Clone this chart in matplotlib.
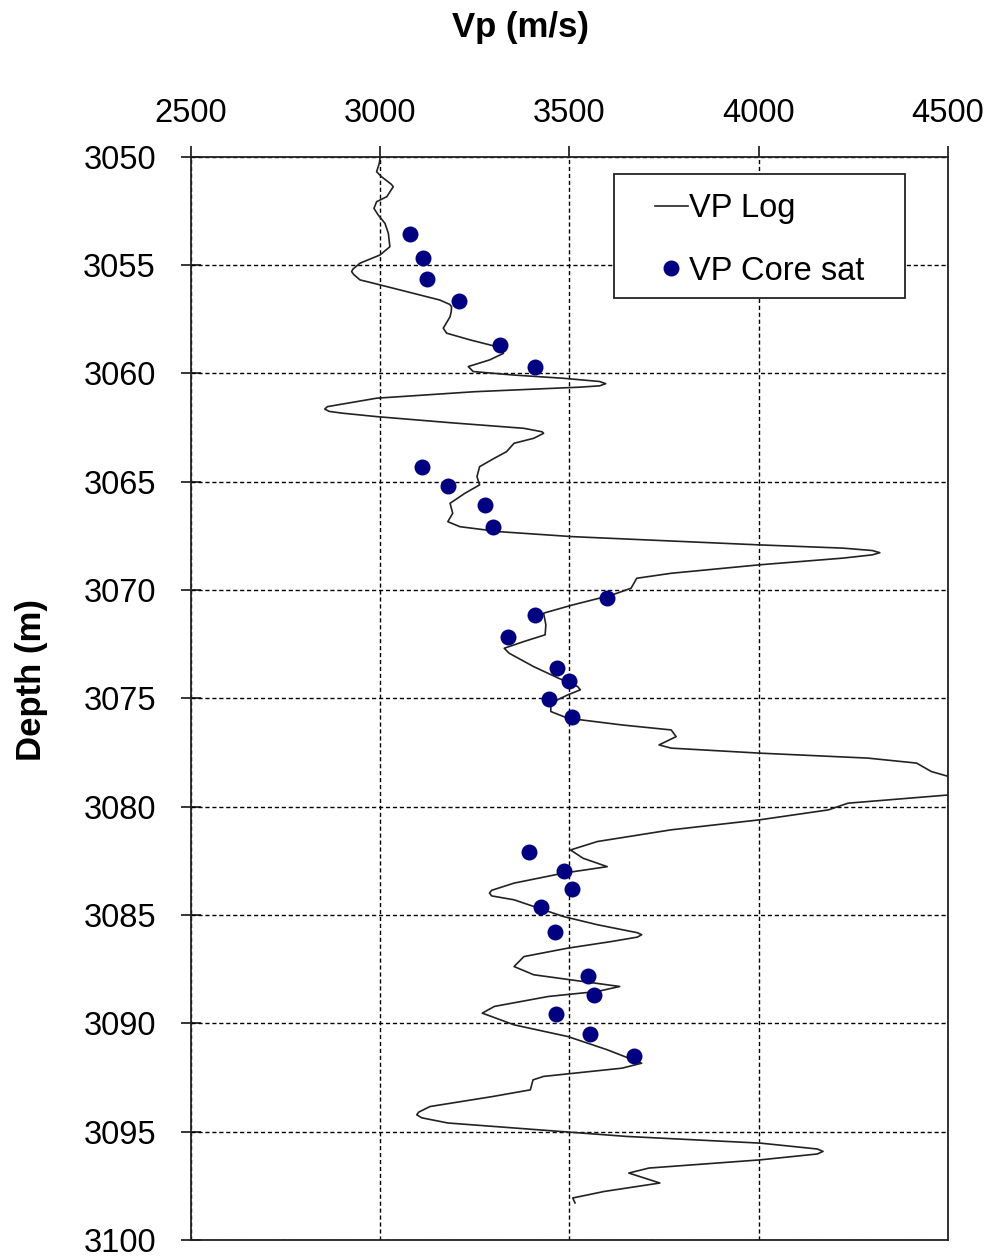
import matplotlib
matplotlib.use("Agg")
import matplotlib.pyplot as plt
from matplotlib.patches import Rectangle

plt.rcParams['font.family'] = ['Liberation Sans', 'DejaVu Sans']

# VP log (m/s) vs depth (m)
log_vp = [3000, 2998, 2991, 3004, 3030, 3035, 3030, 3018, 2991, 2984, 2995, 3013,
          3022, 3026, 3000, 2947, 2928, 2925, 2931, 2947, 3000, 3088, 3158, 3184, 3189,
          3188, 3185, 3167, 3176, 3238, 3308, 3322, 3326, 3290, 3233, 3246, 3352,
          3484, 3580, 3596, 3580, 3528, 3250, 2991, 2861, 2854, 2866, 2900, 2991, 3185,
          3380, 3428, 3432, 3406, 3354, 3334, 3302, 3263, 3256, 3263, 3224,
          3185, 3192, 3179, 3211, 3315, 3509, 3769, 4002, 4223, 4300, 4320,
          4300, 4223, 4002, 3769, 3678, 3663, 3613, 3509, 3432, 3438, 3436,
          3380, 3328, 3341, 3406, 3471, 3522, 3529, 3496, 3451, 3451,
          3496, 3639, 3769, 3782, 3737, 3769, 4002, 4288, 4417, 4456,
          4502, 4580, 4502, 4236, 4184, 4002, 3769, 3574, 3503, 3536,
          3600, 3484, 3354, 3295, 3289, 3295, 3354, 3484, 3574, 3680, 3691, 3680, 3613, 3496,
          3380, 3354, 3406, 3536, 3633, 3574, 3445, 3302, 3270, 3354,
          3496, 3600, 3691, 3639, 3432, 3404, 3397, 3297, 3132, 3102, 3097, 3110,
          3179, 3415, 3651, 4005, 4155, 4170, 4155, 4005, 3710, 3657, 3739, 3592,
          3509, 3515]
log_depth = [3050.08, 3050.31, 3050.70, 3050.93, 3051.28, 3051.39, 3051.52, 3051.85, 3052.08, 3052.39, 3052.69, 3053.08,
             3053.54, 3054.16, 3054.54, 3054.92, 3055.20, 3055.31, 3055.45, 3055.69, 3055.92, 3056.31, 3056.62, 3056.82, 3056.93,
             3057.15, 3057.39, 3057.92, 3058.15, 3058.46, 3058.77, 3058.98, 3059.08, 3059.38, 3059.69, 3059.92, 3060.08,
             3060.23, 3060.38, 3060.48, 3060.58, 3060.64, 3060.85, 3061.15, 3061.54, 3061.65, 3061.76, 3061.84, 3062.00, 3062.28,
             3062.54, 3062.70, 3062.77, 3063.00, 3063.23, 3063.62, 3063.92, 3064.31, 3064.77, 3065.15, 3065.54,
             3066.00, 3066.46, 3066.85, 3067.08, 3067.31, 3067.54, 3067.74, 3067.92, 3068.07, 3068.18, 3068.28,
             3068.38, 3068.53, 3068.84, 3069.23, 3069.46, 3069.92, 3070.23, 3070.69, 3071.07, 3071.61, 3072.07,
             3072.38, 3072.69, 3072.92, 3073.54, 3074.07, 3074.46, 3074.61, 3074.84, 3075.22, 3075.61,
             3075.92, 3076.23, 3076.46, 3076.77, 3077.15, 3077.30, 3077.53, 3077.76, 3077.99, 3078.38,
             3078.61, 3079.00, 3079.46, 3079.84, 3080.15, 3080.61, 3081.07, 3081.61, 3082.00, 3082.38,
             3082.77, 3083.07, 3083.53, 3083.86, 3083.99, 3084.12, 3084.30, 3085.07, 3085.45, 3085.82, 3085.91, 3086.02, 3086.22, 3086.53,
             3086.92, 3087.38, 3087.76, 3088.07, 3088.30, 3088.53, 3088.76, 3089.22, 3089.53, 3090.07,
             3090.61, 3091.22, 3091.84, 3092.07, 3092.45, 3092.61, 3093.07, 3093.38, 3093.84, 3094.10, 3094.22, 3094.36,
             3094.60, 3094.91, 3095.22, 3095.53, 3095.80, 3095.91, 3096.03, 3096.30, 3096.68, 3096.91, 3097.37, 3097.76,
             3098.06, 3098.29]

# VP core (saturated)
core_vp = [3079, 3114, 3125, 3209, 3317, 3408, 3111, 3180, 3277, 3298,
           3599, 3408, 3338, 3467, 3500, 3446, 3507, 3393, 3485, 3507,
           3425, 3462, 3549, 3564, 3464, 3554, 3670]
core_depth = [3053.59, 3054.69, 3055.66, 3056.68, 3058.68, 3059.70, 3064.31, 3065.20, 3066.09, 3067.09,
              3070.38, 3071.17, 3072.18, 3073.59, 3074.20, 3075.02, 3075.87, 3082.10, 3082.97, 3083.81,
              3084.63, 3085.78, 3087.80, 3088.68, 3089.57, 3090.49, 3091.50]

x_ticks = [2500, 3000, 3500, 4000, 4500]
y_ticks = [3050, 3055, 3060, 3065, 3070, 3075, 3080, 3085, 3090, 3095, 3100]

W, H = 991, 1258
fig = plt.figure(figsize=(W / 100, H / 100), dpi=100)
L, R, T, B = 190.7, 948.0, 156.6, 1240.0
ax = fig.add_axes([L / W, 1 - B / H, (R - L) / W, (B - T) / H])

ax.plot(log_vp, log_depth, color='#222222', lw=1.2, label='VP Log', zorder=3)
ax.plot(core_vp, core_depth, linestyle='none', marker='o', markersize=11.5,
        color='#000080', markeredgewidth=0, label='VP Core sat', zorder=4)

ax.set_xlim(2500, 4500)
ax.set_ylim(3100, 3050)
ax.set_xticks(x_ticks)
ax.set_yticks(y_ticks)
ax.xaxis.tick_top()
ax.tick_params(axis='x', direction='out', length=8, width=1.1, pad=12, labelsize=23.5)
ax.tick_params(axis='y', direction='inout', length=14, width=1.1, pad=18, labelsize=23.5)
for s in ax.spines.values():
    s.set_linewidth(1.3)
    s.set_color('#222222')
ax.grid(True, color='black', linestyle=(0, (3, 2)), linewidth=1.0)
ax.set_axisbelow(True)

ax.xaxis.set_label_position('top')
ax.set_xlabel('Vp (m/s)', fontsize=25, fontweight='bold', va='center')
ax.xaxis.set_label_coords((521 - L) / (R - L), (B - 27) / (B - T))
ax.set_ylabel('Depth (m)', fontsize=25, fontweight='bold', va='center')
ax.yaxis.set_label_coords((32 - L) / (R - L), (B - 680) / (B - T))

leg = ax.legend(loc='upper left', bbox_to_anchor=(655 / W, 1 - 193 / H),
                bbox_transform=fig.transFigure, frameon=False, fontsize=23.5,
                borderpad=0, borderaxespad=0, handlelength=1.0, handletextpad=0.05,
                labelspacing=0.97)
frame = Rectangle((614 / W, 1 - 298 / H), (905 - 614) / W, (298 - 174) / H,
                  transform=fig.transFigure, facecolor='white', edgecolor='#222222',
                  linewidth=1.3, zorder=5)
ax.add_artist(frame)
frame.set_clip_on(False)
leg.set_zorder(6)

fig.savefig('out.png', dpi=100)
